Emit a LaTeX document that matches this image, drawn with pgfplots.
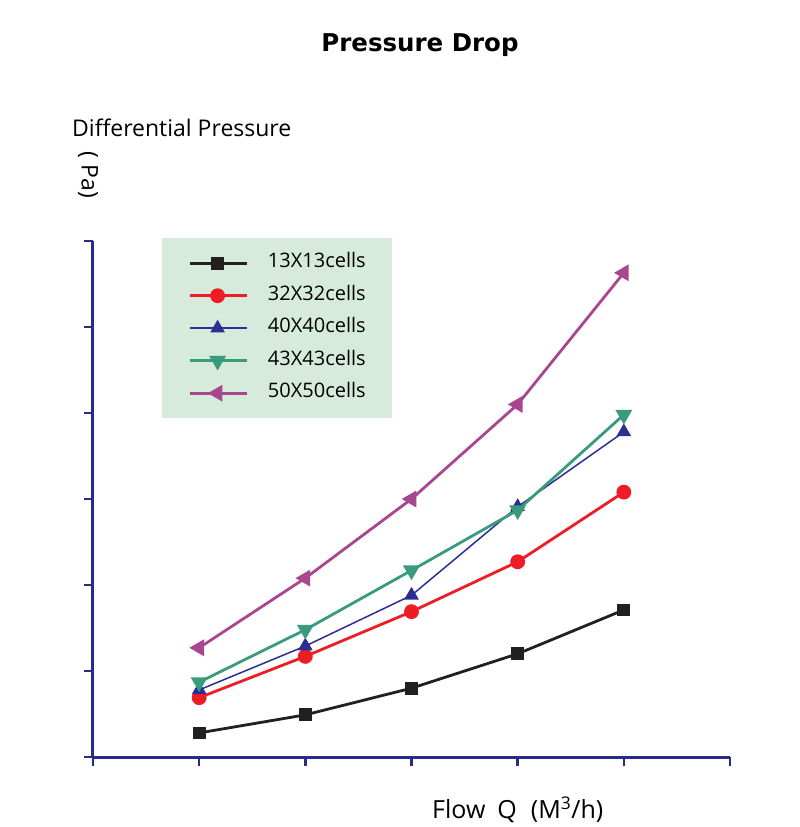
\documentclass[border=0pt]{standalone}
\usepackage{pgfplots}
\pgfplotsset{compat=1.18}
\usepackage{fontspec}
\setmainfont{Open Sans}
\newfontfamily\titlefont{DejaVu Sans}
\definecolor{axisblue}{HTML}{2A2A8C}
\definecolor{legfill}{HTML}{D7EBDD}
\definecolor{cblack}{HTML}{231F20}
\definecolor{cred}{HTML}{EE1C25}
\definecolor{cblue}{HTML}{2B2E92}
\definecolor{cgreen}{HTML}{3A9A7E}
\definecolor{cmag}{HTML}{A8468F}
\begin{document}
\begin{tikzpicture}
\useasboundingbox (-93pt,-70pt) rectangle (707pt,757pt);
\begin{axis}[
  at={(0pt,0pt)}, anchor=south west,
  scale only axis, width=637pt, height=516pt,
  xmin=0, xmax=6, ymin=0, ymax=6,
  axis lines*=left,
  axis line style={axisblue, line width=3pt},
  xtick={0,...,6}, ytick={0,...,6},
  xticklabels={}, yticklabels={},
  tick style={axisblue, line width=2.5pt},
  tick align=outside, major tick length=9pt,
  clip=false,
  legend cell align=left,
  legend style={at={(0.1083,1.0058)}, anchor=north west,
    draw=none, fill=legfill, font=\fontsize{20}{20}\selectfont,
    inner xsep=26pt, inner ysep=15.5pt,
    row sep=13.5pt, column sep=20pt,
    nodes={inner sep=0pt, text height=14pt, text depth=5pt}},
  legend image code/.code={\draw[mark repeat=2,mark phase=2] plot coordinates {(0pt,0pt) (28pt,0pt) (57pt,0pt)};},
]
\addplot[cblack, line width=2.8pt, mark=square*, mark size=5pt, mark options={solid, fill=cblack}]
  coordinates {(1,0.28) (2,0.49) (3,0.80) (4,1.20) (5,1.71)};
\addlegendentry{13X13cells}
\addplot[cred, line width=2.8pt, mark=*, mark size=6pt, mark options={solid, fill=cred}]
  coordinates {(1,0.69) (2,1.17) (3,1.69) (4,2.27) (5,3.08)};
\addlegendentry{32X32cells}
\addplot[cblue, line width=1.5pt, mark=triangle*, mark size=7pt, mark options={solid, fill=cblue}]
  coordinates {(1,0.78) (2,1.29) (3,1.88) (4,2.91) (5,3.78)};
\addlegendentry{40X40cells}
\addplot[cgreen, line width=2.8pt, mark=triangle*, mark size=7pt, mark options={solid, fill=cgreen, rotate=180}]
  coordinates {(1,0.87) (2,1.48) (3,2.17) (4,2.87) (5,3.98)};
\addlegendentry{43X43cells}
\addplot[cmag, line width=2.8pt, mark=triangle*, mark size=7pt, mark options={solid, fill=cmag, rotate=90}]
  coordinates {(1,1.27) (2,2.08) (3,3.00) (4,4.10) (5,5.63)};
\addlegendentry{50X50cells}
\end{axis}
\node[anchor=center] at (327pt,712pt) {\titlefont\bfseries\fontsize{24.5}{24.5}\selectfont Pressure Drop};
\node[anchor=west, inner sep=0pt] at (-21pt,629pt) {\fontsize{23}{23}\selectfont Differential Pressure};
\node[rotate=-90, inner sep=0pt] at (-5pt,582pt) {\fontsize{23}{23}\selectfont ( Pa)};
\node[anchor=west, inner sep=0pt] at (339pt,-53pt) {\fontsize{25}{25}\selectfont Flow\hspace{12pt}Q\hspace{14pt}(M\textsuperscript{3}/h)};
\end{tikzpicture}
\end{document}
